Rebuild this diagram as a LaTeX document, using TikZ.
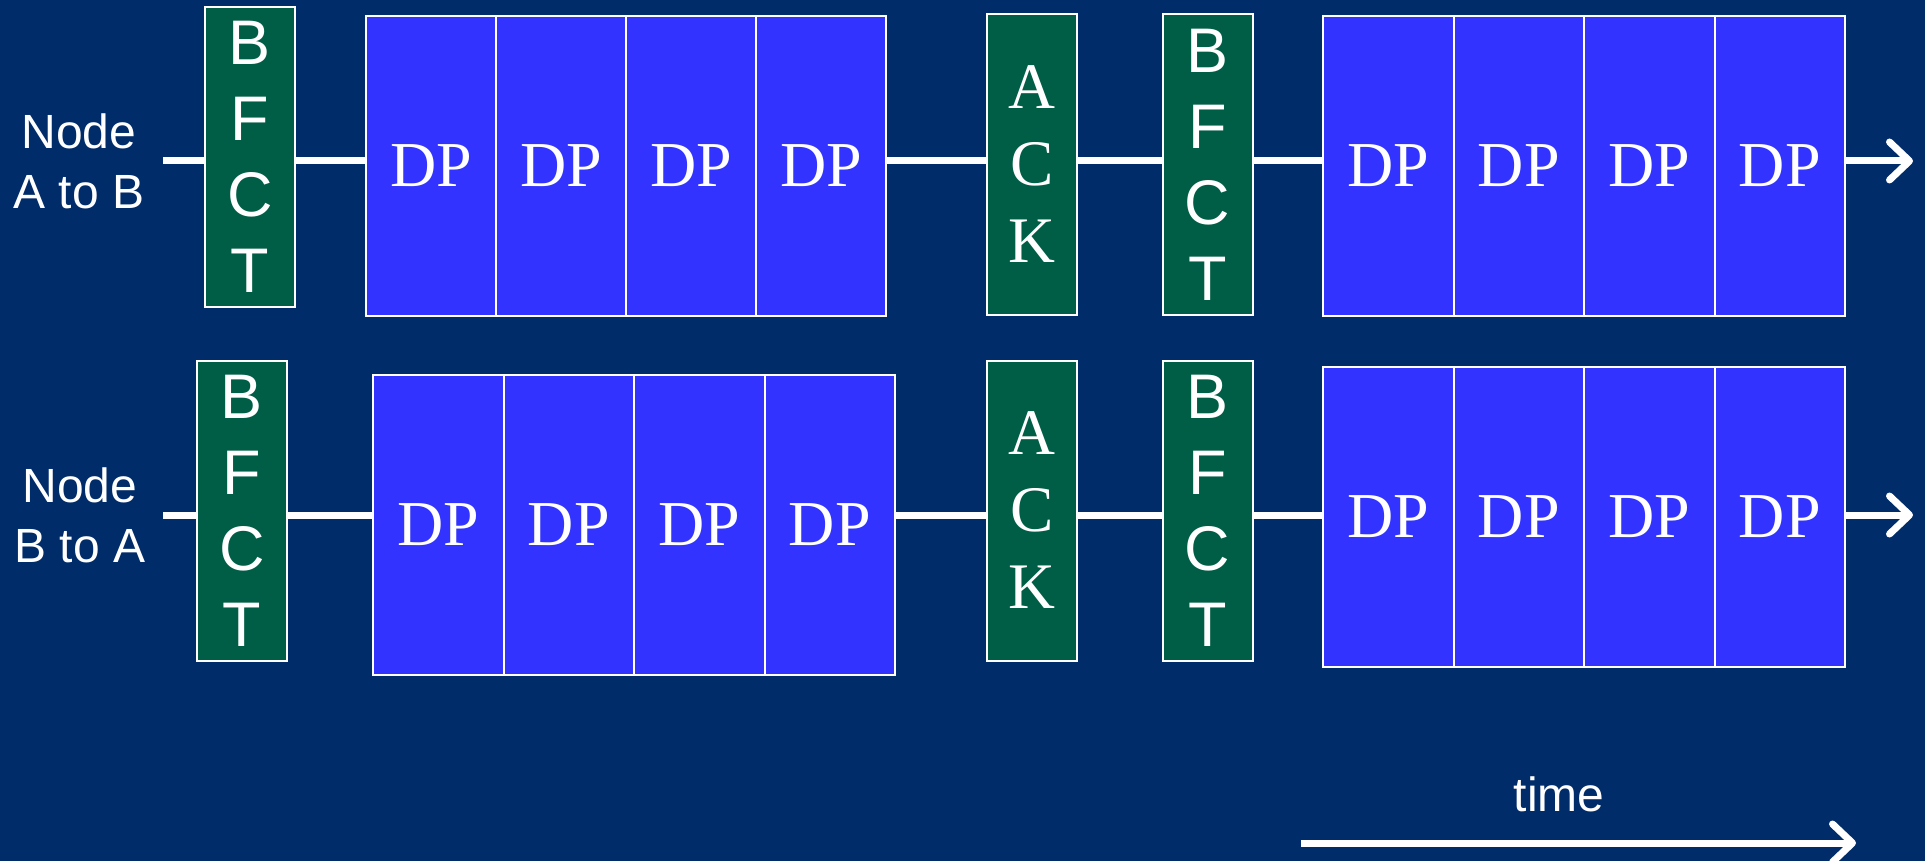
\documentclass[tikz,border=0pt]{standalone}
\usepackage{fontspec}
\setmainfont{Liberation Serif}
\newfontfamily\arialf{Liberation Sans}
\usetikzlibrary{arrows.meta}
\definecolor{bg}{RGB}{0,44,106}
\definecolor{pktgreen}{RGB}{0,94,70}
\definecolor{dpblue}{RGB}{51,51,255}
\begin{document}
\begin{tikzpicture}[x=0.5pt,y=-0.5pt,
  ctrl/.style={draw=white, line width=1pt, fill=pktgreen, text=white, minimum width=45pt, minimum height=150pt, inner sep=0pt, align=center},
  bfctbox/.style={ctrl, font=\arialf\fontsize{31.5pt}{38pt}\selectfont},
  ackbox/.style={ctrl, font=\fontsize{32.5pt}{38.5pt}\selectfont},
  dpbox/.style={draw=white, line width=1pt, fill=dpblue, text=white, minimum width=65pt, minimum height=150pt, inner sep=0pt, font=\fontsize{32pt}{38pt}\selectfont},
  wire/.style={white, line width=3.5pt},
  arrowwire/.style={wire, -{Straight Barb[length=10pt, width=19pt, round]}},
  lbl/.style={text=white, align=center, font=\arialf\fontsize{24pt}{30pt}\selectfont}
]
\fill[bg] (0,0) rectangle (1925,861);
\useasboundingbox (0,0) rectangle (1925,861);

% ---------- Row 1 ----------
\node[lbl] (lblA) at (79,161) {Node\\A to B};
\coordinate (s1) at (163,161);
\coordinate (e1) at (1913,161);
\node[bfctbox] (bfct1) at (250,157) {B\\F\\C\\T};
\node[dpbox] (dp1a) at (431,166) {DP};
\node[dpbox] (dp1b) at (561,166) {DP};
\node[dpbox] (dp1c) at (691,166) {DP};
\node[dpbox] (dp1d) at (821,166) {DP};
\node[ackbox] (ack1) at (1032,164.5) {A\\C\\K};
\node[bfctbox] (bfct2) at (1207.5,164.5) {B\\F\\C\\T};
\node[dpbox, minimum width=65.25pt] (dp2a) at (1388.25,166) {DP};
\node[dpbox, minimum width=65.25pt] (dp2b) at (1518.75,166) {DP};
\node[dpbox, minimum width=65.25pt] (dp2c) at (1649.25,166) {DP};
\node[dpbox, minimum width=65.25pt] (dp2d) at (1779.75,166) {DP};

\draw[wire] (s1) -- (s1 -| bfct1.west);
\draw[wire] (bfct1.east |- s1) -- (dp1a.west |- s1);
\draw[wire] (dp1d.east |- s1) -- (ack1.west |- s1);
\draw[wire] (ack1.east |- s1) -- (bfct2.west |- s1);
\draw[wire] (bfct2.east |- s1) -- (dp2a.west |- s1);
\draw[arrowwire] (dp2d.east |- s1) -- (e1);

% ---------- Row 2 ----------
\node[lbl] (lblB) at (80,515) {Node\\B to A};
\coordinate (s2) at (163,515);
\coordinate (e2) at (1913,515);
\node[bfctbox] (bfct3) at (242,510.5) {B\\F\\C\\T};
\node[dpbox, minimum width=65.25pt] (dp3a) at (438.25,525) {DP};
\node[dpbox, minimum width=65.25pt] (dp3b) at (568.75,525) {DP};
\node[dpbox, minimum width=65.25pt] (dp3c) at (699.25,525) {DP};
\node[dpbox, minimum width=65.25pt] (dp3d) at (829.75,525) {DP};
\node[ackbox] (ack2) at (1032,510.5) {A\\C\\K};
\node[bfctbox] (bfct4) at (1207.5,510.5) {B\\F\\C\\T};
\node[dpbox, minimum width=65.25pt] (dp4a) at (1388.25,517) {DP};
\node[dpbox, minimum width=65.25pt] (dp4b) at (1518.75,517) {DP};
\node[dpbox, minimum width=65.25pt] (dp4c) at (1649.25,517) {DP};
\node[dpbox, minimum width=65.25pt] (dp4d) at (1779.75,517) {DP};

\draw[wire] (s2) -- (s2 -| bfct3.west);
\draw[wire] (bfct3.east |- s2) -- (dp3a.west |- s2);
\draw[wire] (dp3d.east |- s2) -- (ack2.west |- s2);
\draw[wire] (ack2.east |- s2) -- (bfct4.west |- s2);
\draw[wire] (bfct4.east |- s2) -- (dp4a.west |- s2);
\draw[arrowwire] (dp4d.east |- s2) -- (e2);

% ---------- time axis ----------
\node[lbl] (timelbl) at (1559,794) {time};
\coordinate (t0) at (1301,843);
\coordinate (t1) at (1856,843);
\draw[arrowwire] (t0) -- (t1);
\end{tikzpicture}
\end{document}
